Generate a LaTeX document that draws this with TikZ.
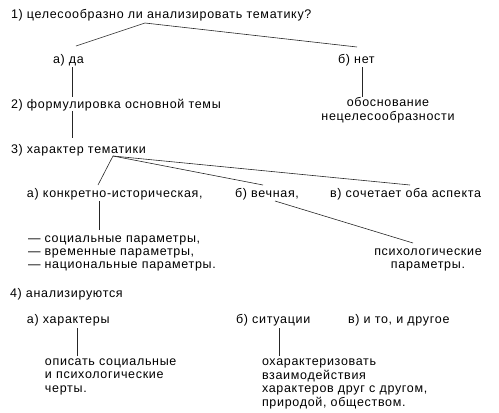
\documentclass[tikz,border=0pt]{standalone}
\usepackage{fontspec}
\setmainfont{Liberation Sans}[LetterSpace=5.5]
\usepackage{tikz}
\usetikzlibrary{positioning}

\begin{document}
\begin{tikzpicture}[x=1pt, y=-1pt,
        txt/.style={anchor=base west, inner sep=0pt, outer sep=0pt,
            font=\fontsize{12.5}{13.4}\selectfont},
        ctxt/.style={txt, anchor=base, align=center},
        ltxt/.style={txt, align=left},
        link/.style={draw=black!85, line width=0.6pt}]
    \useasboundingbox (0,0) rectangle (499,413);

    % question 1
    \node[txt] (q1) at (11,18.3) {1) целесообразно ли анализировать тематику?};
    \node[txt] (da) at (53,63) {а) да};
    \node[txt] (net) at (338,63) {б) нет};
    \node[ctxt] (obosn) at (388,120) {обоснование\\нецелесообразности};

    % question 2
    \node[txt] (q2) at (11,108.5) {2) формулировка основной темы};

    % question 3
    \node[txt] (q3) at (11,153) {3) характер тематики};
    \node[txt] (hist) at (27,197) {а) конкретно-историческая,};
    \node[txt] (vech) at (235,197) {б) вечная,};
    \node[txt] (oba) at (330,197) {в) сочетает оба аспекта};
    \node[ltxt, font=\fontsize{12.5}{12.6}\selectfont] (hpar) at (28,268)
        {— социальные параметры,\\— временные параметры,\\— национальные параметры.};
    \node[ctxt, font=\fontsize{12.5}{12.6}\selectfont] (ppar) at (428,268)
        {психологические\\параметры.};

    % question 4
    \node[txt] (q4) at (10,297) {4) анализируются};
    \node[txt] (har) at (27,323) {а) характеры};
    \node[txt] (sit) at (236,323) {б) ситуации};
    \node[txt] (obe) at (348,323) {в) и то, и другое};
    \node[ltxt] (opis) at (45,392) {описать социальные\\и психологические\\черты.};
    \node[ltxt] (vzaim) at (262,406)
        {охарактеризовать\\взаимодействия\\характеров друг с другом,\\природой, обществом.};

    % connector ends
    \coordinate (q1-fork) at (145,23);
    \coordinate (da-top) at (76,46);
    \coordinate (net-top) at (357,47);
    \coordinate (da-bot) at (72,67);
    \coordinate (q2-top) at (72,97);
    \coordinate (net-bot) at (362,67);
    \coordinate (obosn-top) at (362,97);
    \coordinate (q2-bot) at (72,111);
    \coordinate (q3-top) at (72,138);
    \coordinate (q3-fork) at (113,156);
    \coordinate (hist-top) at (98,185);
    \coordinate (vech-top) at (263,185);
    \coordinate (oba-top) at (410,185);
    \coordinate (hist-bot) at (99,201);
    \coordinate (hpar-top) at (99,230);
    \coordinate (vech-bot) at (275,201);
    \coordinate (ppar-top) at (413,243);
    \coordinate (har-bot) at (77,328);
    \coordinate (opis-top) at (77,356);
    \coordinate (sit-bot) at (279,328);
    \coordinate (vzaim-top) at (279,356);

    % connectors
    \draw[link] (da-top) -- (q1-fork) -- (net-top);
    \draw[link] (da-bot) -- (q2-top);
    \draw[link] (net-bot) -- (obosn-top);
    \draw[link] (q2-bot) -- (q3-top);
    \draw[link] (hist-top) -- (q3-fork) -- (oba-top);
    \draw[link] (q3-fork) -- (vech-top);
    \draw[link] (hist-bot) -- (hpar-top);
    \draw[link] (vech-bot) -- (ppar-top);
    \draw[link] (har-bot) -- (opis-top);
    \draw[link] (sit-bot) -- (vzaim-top);
\end{tikzpicture}
\end{document}
